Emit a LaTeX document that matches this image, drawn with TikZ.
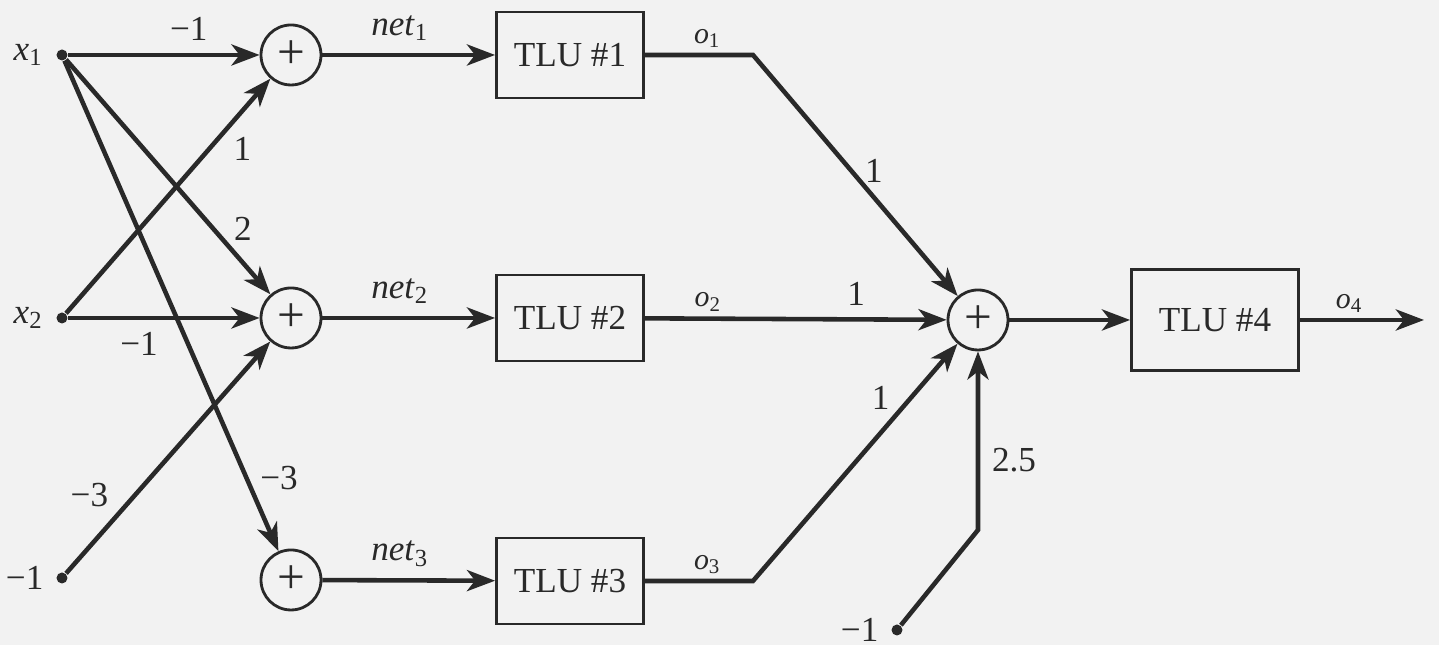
\documentclass[tikz,border=0pt]{standalone}
\usepackage{fontspec}
\setmainfont{Liberation Serif}
\usetikzlibrary{arrows.meta, calc, positioning}
\colorlet{ink}{black!84}
\colorlet{paper}{black!5}

\begin{document}
\begin{tikzpicture}[>={Stealth[length=8pt, width=6pt, inset=2.3pt]},
  every node/.style={font=\fontsize{10}{11}\selectfont, text=ink},
  sumnode/.style={draw=ink, circle, line width=0.8pt, minimum size=0.6cm, inner sep=0pt, font=\fontsize{14}{14}\selectfont},
  tlubox/.style={draw=ink, line width=0.8pt, minimum width=1.47cm, minimum height=0.86cm, font=\fontsize{10}{12}\selectfont},
  indot/.style={circle, fill=ink, inner sep=0pt, minimum size=0.11cm},
  wire/.style={draw=ink, line width=1.3pt},
  sig/.style={font=\fontsize{10}{11}\selectfont},
  outlbl/.style={font=\fontsize{8.5}{9}\selectfont, inner sep=1.5pt}]
  \fill[paper] (0,0) rectangle (14.39,6.45);
  \useasboundingbox (0,0) rectangle (14.39,6.45);
  % inputs and bias
  \node[indot] (x1) at (0.62,5.90) {};
  \node[indot] (x2) at (0.62,3.27) {};
  \node[indot] (b1) at (0.62,0.67) {};
  \node[sig, left=0pt of x1] (lx1) {\textit{x}\textsubscript{1}};
  \node[sig, left=0pt of x2] (lx2) {\textit{x}\textsubscript{2}};
  \node[left=0pt of b1] (lb1) {−1};
  % first layer
  \node[sumnode] (sum1) at (2.91,5.90) {+};
  \node[sumnode] (sum2) at (2.91,3.27) {+};
  \node[sumnode] (sum3) at (2.91,0.65) {+};
  \node[tlubox] (tlu1) at (5.70,5.90) {TLU \#1};
  \node[tlubox] (tlu2) at (5.70,3.27) {TLU \#2};
  \node[tlubox] (tlu3) at (5.70,0.64) {TLU \#3};
  % output unit
  \node[sumnode] (sum4) at (9.78,3.25) {+};
  \node[tlubox, minimum width=1.67cm, minimum height=1.01cm] (tlu4) at (12.15,3.25) {TLU \#4};
  \node[indot] (b2) at (8.97,0.15) {};
  \node[left=0pt of b2] (lb2) {−1};
  \coordinate (c1) at (7.53,5.90);
  \coordinate (c3) at (7.53,0.64);
  \coordinate (c4) at (9.78,1.15);
  \coordinate (yout) at (14.24,3.25);
  % weights into the first layer
  \draw[wire, ->] (x1) -- node[pos=0.63, above] (w11) {−1} (sum1);
  \draw[wire, ->] (x2) -- node[pos=0.70, right=3pt] (w21) {1} (sum1);
  \draw[wire, ->] (x1) -- node[pos=0.72, right=2pt] (w12) {2} (sum2);
  \draw[wire, ->] (x2) -- node[pos=0.37, below] (w22) {−1} (sum2);
  \draw[wire, ->] (b1) -- node[pos=0.25, above left=-2pt] (wb2) {−3} (sum2);
  \draw[wire, ->] (x1) -- node[pos=0.85, right] (w13) {−3} (sum3);
  \draw[wire, ->] (sum1) -- node[sig, pos=0.45, above] (n1) {\textit{net}\textsubscript{1}} (tlu1);
  \draw[wire, ->] (sum2) -- node[sig, pos=0.45, above] (n2) {\textit{net}\textsubscript{2}} (tlu2);
  \draw[wire, ->] (sum3) -- node[sig, pos=0.45, above] (n3) {\textit{net}\textsubscript{3}} (tlu3);
  % second layer
  \draw[wire, ->] (tlu1) -- node[outlbl, pos=0.58, above] (o1) {\textit{o}\textsubscript{1}} (c1) -- node[pos=0.48, right] (v1) {1} (sum4);
  \draw[wire, ->] (tlu2) -- node[outlbl, pos=0.21, above] (o2) {\textit{o}\textsubscript{2}} node[pos=0.70, above] (v2) {1} (sum4);
  \draw[wire, ->] (tlu3) -- node[outlbl, pos=0.58, above] (o3) {\textit{o}\textsubscript{3}} (c3) -- node[pos=0.77, left=2pt] (v3) {1} (sum4);
  \draw[wire, ->] (b2) -- (c4) -- node[pos=0.39, right] (v4) {2.5} (sum4);
  \draw[wire, ->] (sum4) -- (tlu4);
  \draw[wire, ->] (tlu4) -- node[outlbl, pos=0.40, above] (o4) {\textit{o}\textsubscript{4}} (yout);
\end{tikzpicture}
\end{document}
